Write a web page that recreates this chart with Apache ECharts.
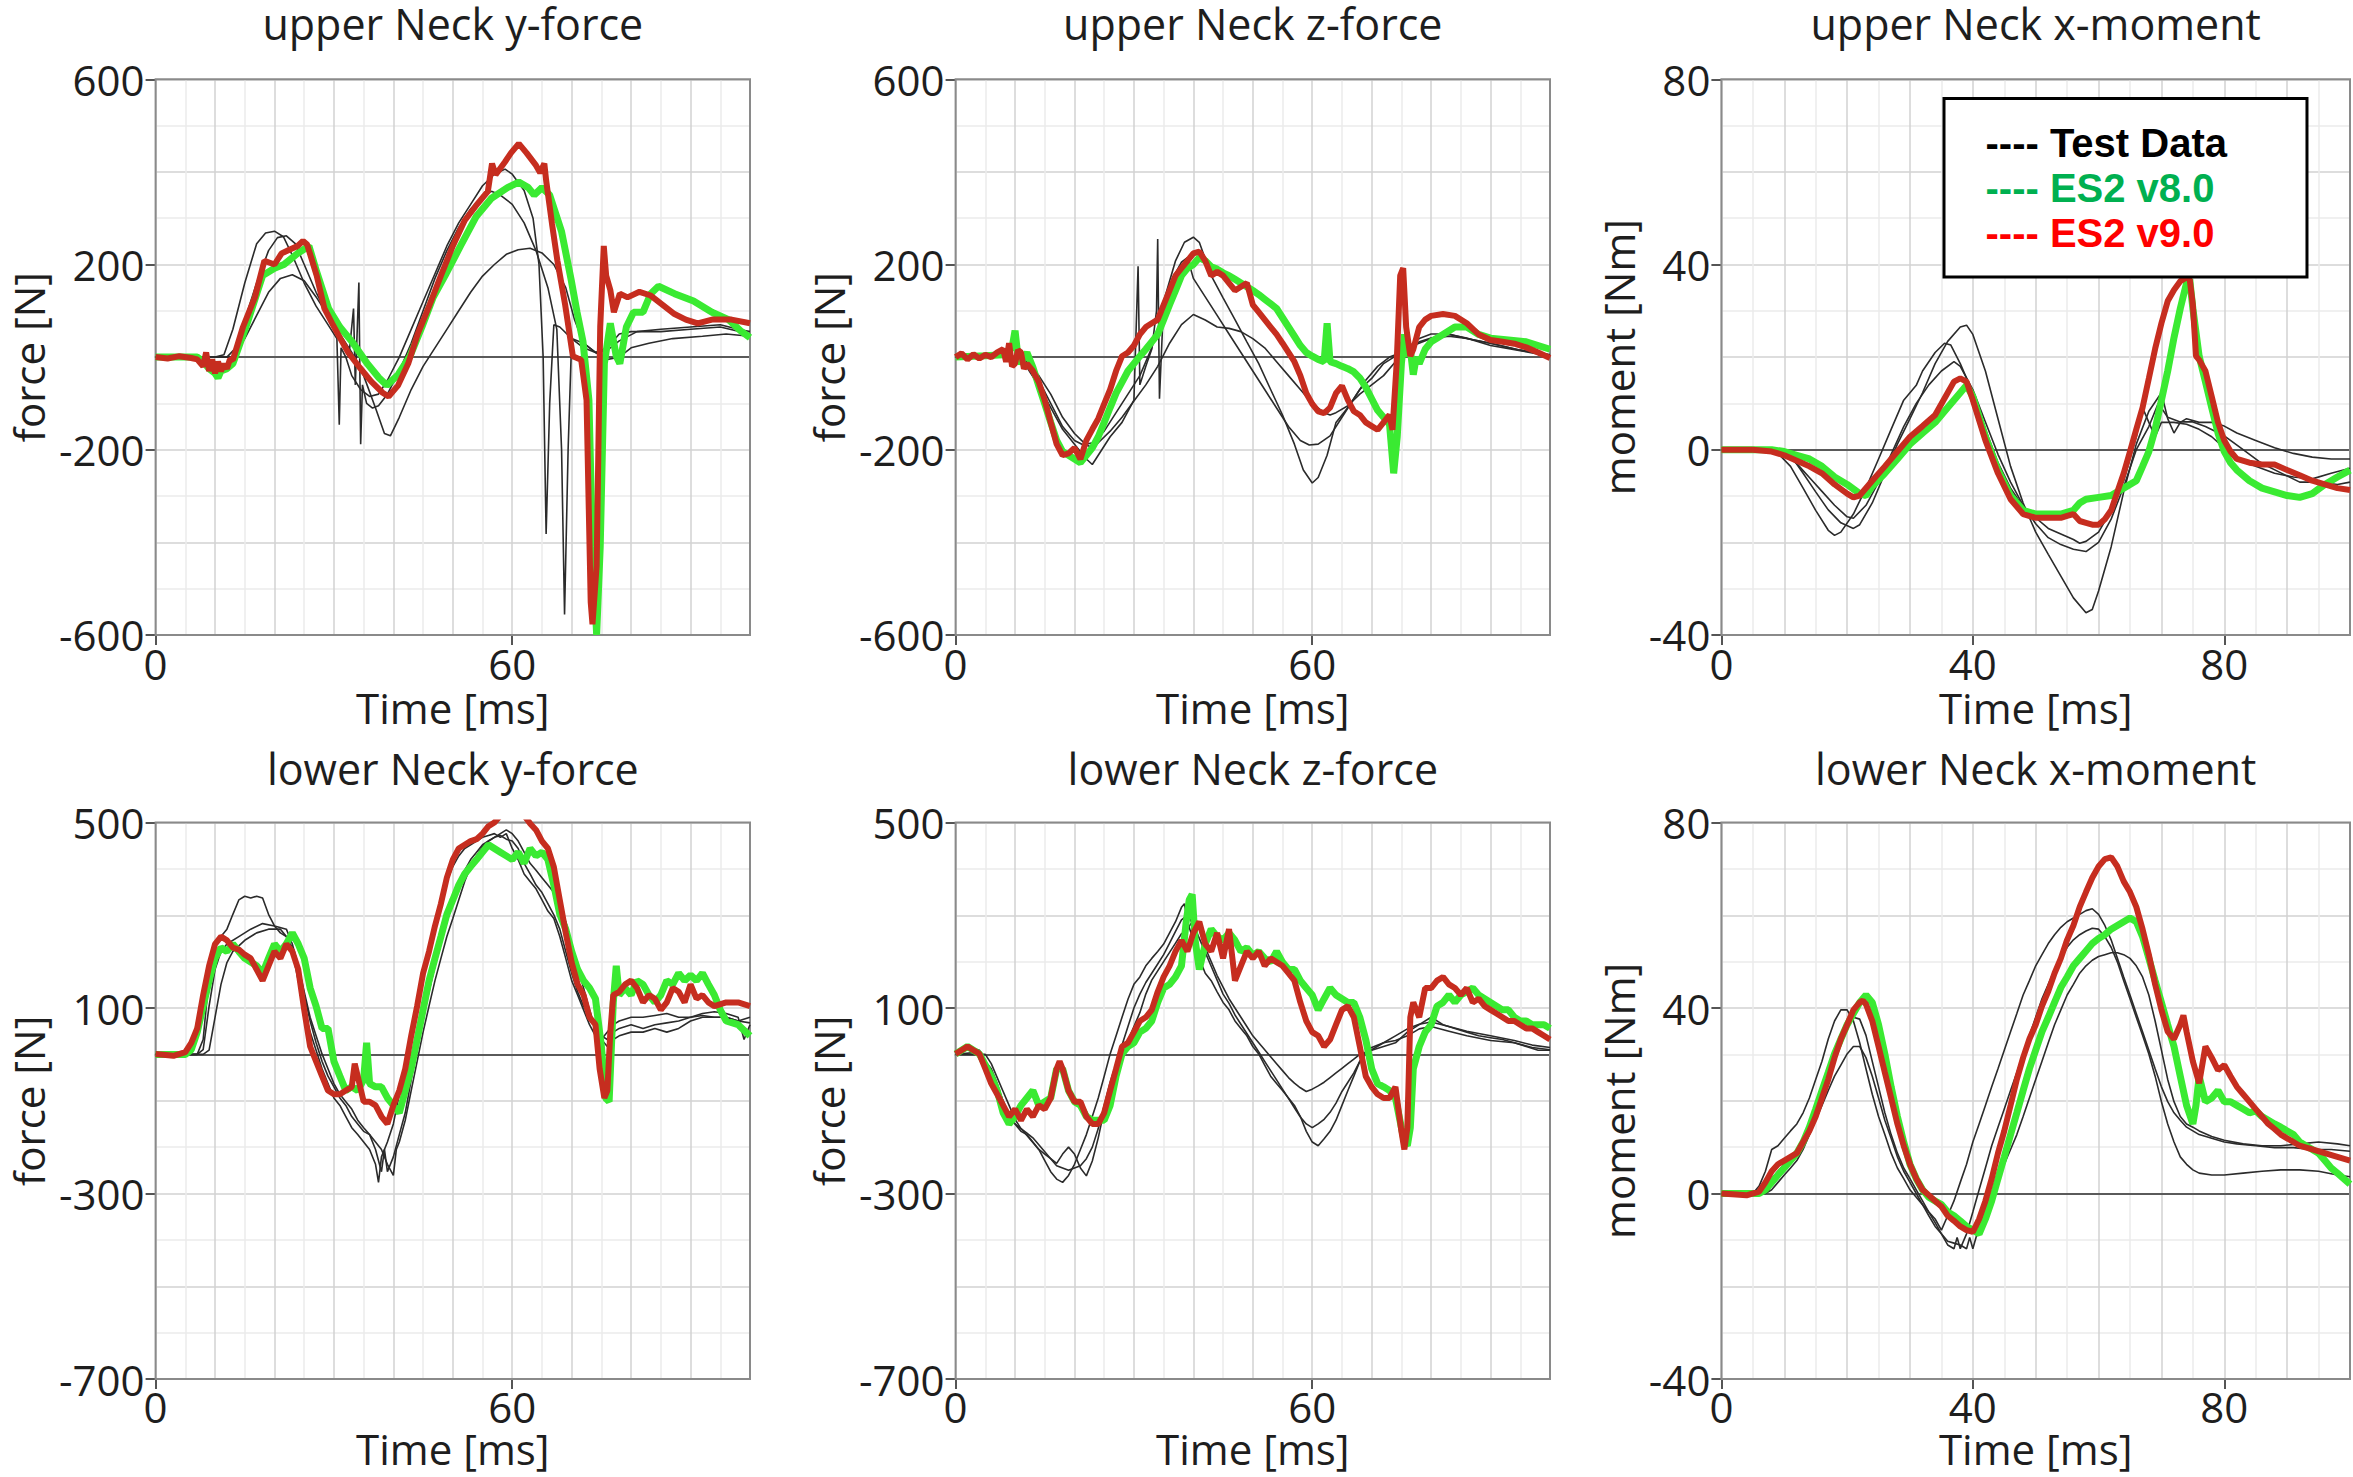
<!DOCTYPE html>
<html><head><meta charset="utf-8">
<script src="https://cdn.jsdelivr.net/npm/echarts@6/dist/echarts.min.js"></script>
<style>html,body{margin:0;padding:0;background:#fff}#c{width:2353px;height:1477px}</style>
</head><body><div id="c"></div>
<script>
// ---------------- DATA ----------------
const TITLES = ['upper Neck y-force','upper Neck z-force','upper Neck x-moment','lower Neck y-force','lower Neck z-force','lower Neck x-moment'];
const Y_NAMES = ['force [N]','force [N]','moment [Nm]','force [N]','force [N]','moment [Nm]'];
const X_NAME = 'Time [ms]';
const X_RANGE = [0, 100];
const X_TICKS_FORCE = [0, 60];
const X_TICKS_MOMENT = [0, 40, 80];
const Y_RANGE_UPPER_FORCE = [-600, 600];
const Y_RANGE_LOWER_FORCE = [-700, 500];
const Y_RANGE_MOMENT = [-40, 80];
const Y_TICKS_UPPER_FORCE = [-600, -200, 200, 600];
const Y_TICKS_LOWER_FORCE = [-700, -300, 100, 500];
const Y_TICKS_MOMENT = [-40, 0, 40, 80];
const SERIES_NAMES = ['Test Data', 'ES2 v8.0', 'ES2 v9.0'];

// upper Neck y-force
const UNY_T1 = [[0,0],[10,0],[11.5,5],[13,60],[15,160],[17,245],[18.5,268],[20,272],[21.5,260],[23,220],[25,160],[27,110],[29,70],[30.5,40],[30.9,-146],[31.2,20],[32,0],[33,-40],[34.5,-70],[36,-85],[37.5,-80],[39,-50],[41,0],[43,60],[45,120],[47,180],[49,240],[51,290],[53,330],[55,370],[57,395],[58.8,406],[60,395],[62,360],[63.5,300],[64.5,200],[65.2,0],[65.7,-382],[66.3,-100],[67,70],[68,65],[70,40],[72,20],[74,10],[76,15],[78,35],[81,55],[85,60],[90,65],[95,70],[98,60],[100,55]];
const UNY_T2 = [[0,0],[12,0],[13.5,20],[15,80],[17,160],[19,230],[20.5,258],[22,262],[23.5,245],[25,200],[27,140],[29,90],[31,40],[32.5,0],[33.3,105],[33.6,-60],[34.2,161],[34.5,-188],[34.8,-60],[35.5,-100],[36.5,-110],[37.5,-105],[39,-80],[41,-30],[43,30],[45,100],[47,170],[49,230],[51,280],[53,320],[55,348],[56.5,358],[58,350],[60,330],[62,290],[64,230],[66,150],[67.5,60],[68.3,-200],[68.8,-556],[69.4,-200],[70,40],[72,30],[74,10],[76,20],[78,50],[80,55],[85,55],[90,60],[95,65],[100,50]];
const UNY_T3 = [[0,0],[13,0],[15,40],[17,90],[19,140],[21,170],[23,178],[25,165],[27,130],[29,90],[31,50],[33,10],[35,-40],[37,-110],[38.5,-165],[39.5,-170],[41,-130],[43,-70],[45,-20],[47,20],[49,60],[51,100],[53,140],[55,175],[57,200],[59,222],[61,232],[63,235],[65,225],[67,200],[69,150],[70.5,80],[72,30],[74,10],[76,-5],[78,0],[80,20],[83,30],[87,40],[92,45],[96,50],[100,45]];
const UNY_V8 = [[0,0],[7,0],[8,-10],[9,-25],[10,-35],[10.5,-45],[11,-30],[12,-25],[13,-14],[15.4,73],[18,176],[20,192],[21.6,200],[23.9,224],[25.8,240],[27.1,184],[29.1,105],[31,65],[33,34],[35.6,-14],[37.6,-45],[38.9,-61],[40.8,-38],[42.8,2],[44.8,65],[46.7,129],[48.7,176],[51.3,240],[53.9,303],[56.5,343],[59.2,366],[61.1,378],[62.7,366],[63.7,350],[65,366],[66.3,350],[68.3,271],[69.9,168],[70.9,97],[71.9,34],[72.9,-93],[73.5,-410],[74.2,-600],[74.8,-410],[75.5,-14],[76.5,73],[77.5,2],[78.1,-14],[79.2,65],[80.4,97],[82,97],[83.3,137],[84.6,153],[87.3,137],[90.5,121],[93.6,97],[96.4,81],[98.4,57],[100,42]];
const UNY_V9 = [[0,0],[2,-3],[4,2],[6,-2],[7,-5],[8,-20],[8.5,10],[9,-30],[9.5,-5],[10,-35],[10.5,-10],[11,-30],[11.5,-15],[12,-25],[12.5,-5],[13,-6],[14.7,65],[16.7,129],[18.3,208],[20,200],[21.2,224],[22.5,232],[23.9,240],[24.8,251],[25.5,243],[27.1,176],[28.4,105],[29.7,73],[31,42],[32.4,10],[34.3,-22],[36.3,-53],[38.2,-77],[39.2,-85],[40.8,-61],[42.5,-14],[44.1,50],[46.1,113],[48,176],[50,240],[52,295],[53.9,327],[55.9,358],[56.6,418],[57.2,394],[58.8,422],[59.8,441],[61.1,461],[62.4,441],[64,414],[64.7,398],[65.4,418],[65.7,382],[66.7,287],[67.6,208],[68.9,113],[70.2,2],[71.6,-6],[72.5,-93],[73.2,-529],[73.5,-577],[74.2,-450],[74.8,65],[75.4,240],[75.8,176],[76.5,145],[77.1,97],[78.1,137],[79.4,129],[81.4,141],[83.3,133],[85.3,113],[87.3,93],[89.2,81],[91.2,73],[93.6,81],[96.9,81],[100,73]];

// upper Neck z-force
const UNZ_T1 = [[0,0],[9,0],[10,-8],[12,-22],[14,-62],[16,-109],[18,-156],[20,-188],[22,-220],[23,-232],[24,-212],[26,-172],[28,-141],[30,-93],[30.7,196],[31,-60],[32,-20],[33,17],[33.8,100],[34,255],[34.3,-90],[35,120],[37,208],[38.5,248],[40,259],[41,248],[43,176],[45,128],[47,81],[49,33],[51,-14],[53,-70],[55,-125],[57,-188],[58.5,-244],[60,-272],[61,-260],[62.5,-212],[64,-141],[66,-109],[68,-70],[70,-46],[72,-14],[74,2],[76,17],[78,33],[80,41],[83,49],[86,41],[90,25],[95,14],[100,2]];
const UNZ_T2 = [[0,0],[10,0],[12,-15],[14,-50],[16,-100],[18,-150],[20,-180],[21.5,-190],[23,-185],[25,-160],[27,-120],[29,-80],[31,-40],[33,20],[35,100],[36.5,170],[38,205],[39,215],[40,170],[42,130],[44,90],[46,50],[48,10],[50,-30],[52,-70],[54,-110],[56,-150],[58,-180],[59.5,-190],[61,-188],[63,-170],[65,-130],[67,-90],[69,-50],[71,-20],[73,0],[75,10],[77,25],[80,40],[83,45],[86,40],[90,30],[95,15],[100,5]];
const UNZ_T3 = [[0,0],[10,0],[12,-10],[14,-40],[16,-80],[18,-130],[20,-165],[22,-190],[23,-195],[24,-185],[26,-160],[28,-130],[30,-95],[32,-60],[34,-20],[36,30],[38,70],[40,92],[42,80],[44,65],[46,62],[48,55],[50,40],[52,20],[54,-10],[56,-40],[58,-70],[60,-100],[62,-120],[63,-125],[64,-120],[66,-105],[68,-80],[70,-60],[72,-40],[74,-10],[76,20],[78,40],[80,50],[83,50],[86,40],[90,30],[95,15],[100,5]];
const UNZ_V8 = [[0,0],[5,3],[8,5],[9.5,20],[10,57],[10.5,0],[11,-14],[12,10],[13,-22],[14,-62],[15,-101],[16,-141],[17,-180],[18,-204],[19,-212],[20,-220],[21,-228],[22,-212],[23,-196],[24,-172],[25,-141],[26,-109],[27,-78],[28,-54],[29,-30],[30,-14],[31,2],[32,17],[33,33],[34,49],[35,81],[36,113],[37,144],[38,176],[39,192],[40,200],[41,215],[42,208],[43,195],[44,190],[45,182],[46,176],[47,168],[48,160],[49,152],[50,144],[51,135],[52,125],[53,115],[54,105],[55,85],[56,65],[57,45],[58,25],[59,10],[60,2],[61,-5],[62,-10],[62.5,73],[63,-10],[64,-14],[65,-20],[66,-25],[67,-32],[68,-45],[69,-65],[70,-90],[71,-115],[72,-130],[73,-145],[73.7,-251],[74.3,-172],[75,-14],[75.5,49],[76,2],[76.5,17],[77,-38],[77.5,0],[78,-14],[79,17],[80,33],[82,49],[84,65],[86,65],[88,49],[90,41],[93,37],[96,33],[100,17]];
const UNZ_V9 = [[0,0],[1,8],[2,-5],[3,6],[4,-3],[5,5],[6,0],[7,10],[8,17],[8.5,-10],[9,30],[9.5,-20],[10,-14],[10.5,15],[11,10],[11.5,-25],[12,-14],[13,-30],[14,-54],[15,-93],[16,-141],[17,-188],[18,-212],[19,-208],[20,-196],[21,-220],[22,-180],[23,-156],[24,-133],[25,-101],[26,-70],[27,-30],[28,2],[29,10],[30,25],[31,49],[32,65],[33,73],[34,81],[35,113],[36,144],[37,176],[38,192],[39,208],[40,224],[41,228],[42,208],[43,176],[44,184],[45,176],[46,160],[47,144],[48,152],[49,160],[50,113],[51,97],[52,81],[53,65],[54,49],[55,30],[56,10],[57,-10],[58,-40],[59,-78],[60,-101],[61,-117],[62,-121],[63,-109],[64,-78],[65,-62],[66,-93],[67,-117],[68,-125],[69,-141],[70,-149],[71,-157],[72,-141],[73,-125],[73.5,-157],[74.2,-14],[74.8,176],[75.3,192],[75.8,65],[76.5,2],[77,17],[78,65],[79,81],[80,89],[82,93],[84,89],[86,73],[88,49],[90,37],[92,33],[94,29],[96,21],[98,10],[100,-2]];

// upper Neck x-moment
const UMX_T1 = [[0,0],[9,0],[11,-1.2],[13,-5.1],[15,-9.1],[17,-13],[19,-15.8],[21,-17],[22,-16.2],[24,-11.5],[26,-5.1],[28,1.2],[30,6.7],[32,12.3],[34,18.6],[36,23.4],[38,26.5],[39,26.9],[40,24.9],[42,17],[44,6.7],[46,-3.6],[48,-11.5],[50,-17.8],[52,-22.6],[54,-27.3],[56,-32],[58,-35.2],[59,-34.5],[60,-30.5],[62,-21],[64,-9.1],[66,1.2],[68,8.3],[70,12.3],[71,6.7],[72,3.6],[73,5.9],[74,6.7],[76,5.9],[78,5.9],[80,5.1],[82,3.6],[85,2],[88,0.4],[91,-0.8],[94,-1.6],[97,-2],[100,-2]];
const UMX_T2 = [[0,0],[7,0],[9,-0.8],[11,-3.6],[13,-8.3],[15,-13.1],[17,-17.4],[18,-18.5],[19,-17.8],[21,-13.9],[23,-8.3],[25,-2],[27,4.4],[29,10.7],[31,13.9],[32,17],[34,21],[35.5,23],[36.5,22.6],[38,18.6],[40,12.3],[42,4.4],[44,-2.8],[46,-8.3],[48,-12.3],[50,-14.7],[52,-17],[54,-18.2],[56,-19.4],[57,-20.2],[58,-19.8],[60,-17.8],[62,-13.1],[64,-6.7],[66,2.8],[67,9.1],[68,5.9],[69,2.8],[70,5.9],[72,5.9],[74,5.5],[76,4.4],[78,2.8],[80,0.4],[82,-2],[85,-3.6],[88,-5.1],[91,-5.9],[94,-6.3],[97,-5.1],[100,-4]];
const UMX_T3 = [[0,0],[8,0],[10,-1],[12,-3],[14,-6],[16,-9],[18,-12],[20,-14.5],[21,-14.8],[23,-12],[25,-7],[27,-1],[29,5],[31,10],[33,14],[35,17],[37,19],[38,18],[40,13],[42,6],[44,-1],[46,-7],[48,-12],[50,-16],[52,-19],[54,-20.5],[56,-21.5],[58,-22],[60,-20],[62,-15],[64,-8],[66,0],[68,5],[69.5,10],[71,7],[73,6],[75,6],[77,5],[80,3],[83,0],[86,-3],[89,-5],[92,-7],[95,-7],[98,-7.5],[100,-7]];
const UMX_V8 = [[0,0],[8,0],[10,-0.4],[12,-1.2],[14,-2],[16,-3.6],[18,-5.9],[20,-7.5],[22,-9.5],[23,-9.9],[24,-7.9],[26,-5.1],[28,-2],[30,1.2],[32,3.6],[34,5.9],[36,9.1],[38,12.3],[39,13.9],[40,11.5],[42,2.8],[44,-4.4],[46,-9.9],[48,-13.1],[50,-13.9],[52,-13.9],[54,-13.9],[56,-13.1],[57,-11.5],[58,-10.7],[60,-10.3],[62,-9.9],[64,-8.3],[66,-6.7],[67,-3.6],[68,-0.4],[69,4.4],[70,10.7],[71,17],[72,24.2],[73,30.5],[74,36],[74.5,36.8],[75,30.5],[76,20.2],[77,14.7],[78,9.1],[79,3.6],[80,-0.4],[81,-2.8],[82,-4.4],[84,-6.7],[86,-8.3],[88,-9.1],[90,-9.9],[92,-10.3],[94,-9.5],[96,-7.5],[98,-5.9],[100,-4.4]];
const UMX_V9 = [[0,0],[5,0],[8,-0.4],[10,-1.2],[12,-2.4],[14,-3.6],[16,-5.1],[18,-7.5],[20,-9.5],[21,-10.3],[22,-9.9],[24,-6.7],[26,-3.6],[28,-0.4],[30,2.8],[32,5.1],[34,7.5],[36,12.3],[37,14.7],[38,15.4],[39,14.7],[40,10.7],[42,2],[44,-5.1],[46,-10.7],[48,-13.9],[50,-14.7],[52,-14.7],[54,-14.7],[55,-14.3],[56,-13.9],[57,-15.4],[58,-15.8],[59,-16.2],[60,-16.2],[61,-15],[62,-13.1],[63,-9.1],[64,-5.1],[65,-0.4],[66,4.4],[67,9.1],[68,15.4],[69,21.8],[70,27.3],[71,32.1],[72,34.5],[73,36.4],[74,37.2],[74.5,36.8],[75,31.3],[75.5,20.2],[76,19.4],[77,17],[78,11.5],[79,5.9],[80,2],[81,-0.4],[82,-2],[84,-2.8],[86,-3.2],[88,-3.2],[90,-4.4],[92,-5.5],[94,-6.7],[96,-7.5],[98,-8.3],[100,-8.7]];

// lower Neck y-force
const LNY_T1 = [[0,0],[7,0],[8,32],[9,167],[10,238],[11,254],[12,270],[13,302],[14,333],[15,341],[16,337],[17,341],[18,337],[19,302],[20,277],[21,262],[22,254],[23,222],[24,159],[25,96],[26,48],[27,9],[28,-31],[29,-63],[30,-94],[31,-110],[32,-134],[33,-158],[34,-173],[35,-189],[36,-205],[37,-237],[37.5,-276],[38,-221],[39,-189],[40,-150],[41,-86],[42,-15],[43,48],[44,112],[45,175],[46,230],[47,286],[48,333],[49,373],[50,405],[51,428],[52,444],[53,452],[54,460],[55,468],[56,472],[57,476],[58,468],[59,476],[60,444],[61,420],[62,389],[63,373],[64,357],[65,333],[66,309],[67,293],[68,254],[69,207],[70,159],[71,128],[72,96],[73,64],[74,40],[75,32],[76,48],[77,64],[78,72],[80,80],[82,80],[84,84],[86,88],[88,80],[90,80],[92,88],[94,92],[96,88],[98,80],[99,32],[100,64]];
const LNY_T2 = [[0,0],[7,0],[8,10],[9,104],[10,183],[11,222],[12,238],[14,254],[16,270],[18,282],[20,277],[22,270],[23,238],[24,191],[25,128],[26,72],[27,25],[28,-15],[29,-47],[30,-70],[31,-94],[32,-110],[33,-134],[34,-150],[35,-166],[36,-173],[37,-205],[38,-253],[38.5,-205],[39,-253],[40,-221],[41,-173],[42,-126],[43,-55],[44,17],[45,80],[46,135],[47,191],[48,238],[49,286],[50,325],[51,365],[52,397],[53,420],[54,436],[55,452],[56,460],[57,468],[58,472],[59,464],[60,460],[61,444],[62,412],[63,389],[64,365],[65,349],[66,325],[67,301],[68,270],[69,222],[70,175],[71,135],[72,104],[73,80],[74,56],[75,40],[76,32],[77,48],[78,56],[80,64],[82,56],[84,64],[86,68],[88,72],[90,80],[92,84],[94,80],[96,80],[98,72],[100,80]];
const LNY_T3 = [[0,0],[8,0],[9,9],[10,80],[11,151],[12,198],[13,222],[15,246],[17,262],[19,270],[21,270],[22,254],[23,230],[24,191],[25,135],[26,80],[27,40],[28,1],[29,-31],[30,-63],[31,-86],[32,-102],[33,-118],[34,-142],[35,-158],[36,-173],[37,-189],[38,-205],[39,-237],[40,-261],[40.5,-205],[41,-189],[42,-142],[43,-78],[44,-15],[45,48],[46,104],[47,159],[48,207],[49,254],[50,293],[51,333],[52,373],[53,405],[54,428],[55,448],[56,460],[57,468],[58,476],[59,484],[60,476],[61,460],[62,436],[63,412],[64,397],[65,381],[66,365],[67,349],[68,317],[69,286],[70,238],[71,191],[72,143],[73,96],[74,56],[75,32],[76,17],[77,32],[78,40],[80,48],[82,48],[84,56],[86,48],[88,56],[90,72],[92,80],[94,80],[96,80],[98,72],[100,68]];
const LNY_V8 = [[0,0],[5,0],[6,10],[7,48],[8,104],[9,159],[10,207],[11,230],[12,222],[13,238],[14,222],[15,207],[16,199],[17,191],[18,175],[19,207],[20,238],[21,222],[22,238],[23,262],[24,238],[25,207],[26,143],[27,104],[28,56],[29,56],[30,-15],[31,-47],[32,-78],[33,-70],[34,-78],[35,-55],[35.5,25],[36,-63],[37,-70],[38,-70],[39,-94],[40,-110],[41,-126],[42,-78],[43,-31],[44,32],[45,96],[46,159],[47,207],[48,254],[49,302],[50,333],[51,365],[52,389],[53,405],[54,420],[55,436],[56,452],[57,444],[58,436],[59,428],[60,420],[61,436],[62,412],[63,444],[64,428],[65,436],[66,420],[67,365],[68,302],[69,270],[70,222],[71,183],[72,159],[73,143],[74,120],[75,17],[75.7,-94],[76.3,-102],[77,112],[77.5,191],[78,128],[79,143],[80,128],[81,159],[82,151],[83,128],[84,112],[85,128],[86,159],[87,151],[88,175],[89,159],[90,171],[91,159],[92,175],[93,151],[94,128],[95,96],[96,72],[98,64],[100,40]];
const LNY_V9 = [[0,1],[3,-3],[5,5],[6,25],[7,56],[8,128],[9,191],[10,238],[11,254],[12,246],[13,230],[14,226],[15,215],[16,207],[17,183],[18,159],[19,191],[20,222],[21,207],[22,238],[23,222],[24,183],[25,96],[26,17],[27,-15],[28,-47],[29,-78],[30,-86],[31,-86],[32,-78],[33,-70],[33.5,-20],[34,-47],[35,-102],[36,-102],[37,-110],[38,-134],[39,-150],[40,-110],[41,-78],[42,-31],[43,40],[44,104],[45,175],[46,222],[47,277],[48,325],[49,381],[50,420],[51,444],[52,452],[53,460],[54,464],[55,476],[56,492],[57,500],[58,515],[59,530],[60,540],[61,535],[62,515],[63,498],[64,484],[65,460],[66,444],[67,404],[68,333],[69,262],[70,198],[71,151],[72,128],[73,80],[74,64],[74.7,-31],[75.5,-94],[76,-78],[76.5,48],[77,128],[78,135],[79,151],[80,159],[81,143],[82,112],[83,128],[84,120],[85,96],[86,112],[87,143],[88,135],[89,112],[90,151],[91,120],[92,128],[93,112],[94,104],[96,112],[98,112],[100,104]];

// lower Neck z-force
const LNZ_T1 = [[0,1],[2,17],[4,9],[5,-15],[6,-31],[7,-63],[8,-102],[9,-134],[10,-150],[11,-166],[12,-173],[13,-189],[14,-205],[15,-229],[16,-253],[17,-269],[18,-276],[19,-261],[20,-237],[21,-205],[22,-173],[23,-134],[24,-94],[25,-47],[26,1],[27,40],[28,80],[29,119],[30,151],[31,167],[32,191],[33,207],[34,222],[35,238],[36,262],[37,286],[38,317],[38.5,325],[39,286],[40,246],[41,207],[42,175],[43,159],[44,135],[45,112],[46,96],[47,72],[48,56],[49,40],[50,17],[51,1],[52,-23],[53,-47],[54,-63],[55,-78],[56,-94],[57,-110],[58,-134],[59,-166],[60,-189],[61,-197],[62,-182],[63,-166],[64,-142],[65,-110],[66,-78],[67,-47],[68,-15],[69,1],[70,9],[72,17],[74,25],[76,48],[78,64],[80,80],[82,64],[84,56],[86,48],[88,40],[90,36],[92,32],[94,25],[96,17],[98,9],[100,9]];
const LNZ_T2 = [[0,0],[4,5],[5,-20],[6,-40],[7,-70],[8,-100],[9,-130],[10,-150],[11,-160],[12,-170],[13,-180],[14,-195],[15,-210],[16,-225],[17,-240],[18,-245],[19,-250],[20,-245],[21,-240],[22,-225],[23,-200],[24,-160],[25,-110],[26,-60],[27,-20],[28,20],[29,60],[30,100],[31,130],[32,155],[33,175],[34,195],[35,215],[36,240],[37,265],[38,290],[39,300],[40,280],[41,250],[42,220],[43,190],[44,160],[45,130],[46,110],[47,85],[48,65],[49,45],[50,25],[51,5],[52,-15],[53,-35],[54,-55],[55,-75],[56,-95],[57,-115],[58,-135],[59,-150],[60,-158],[61,-150],[62,-140],[63,-125],[64,-105],[65,-80],[66,-60],[67,-40],[68,-15],[69,5],[70,15],[72,25],[74,30],[76,40],[78,55],[80,60],[83,50],[86,40],[90,30],[94,25],[97,15],[100,10]];
const LNZ_T3 = [[0,0],[5,0],[6,-20],[7,-50],[8,-80],[9,-110],[10,-140],[11,-160],[12,-175],[13,-190],[14,-205],[15,-215],[16,-225],[17,-235],[18,-215],[19,-200],[20,-215],[21,-245],[22,-262],[23,-230],[24,-180],[25,-120],[26,-70],[27,-30],[28,0],[29,30],[30,60],[31,90],[32,130],[33,160],[34,180],[35,200],[36,220],[37,240],[38,260],[39,270],[40,290],[41,270],[42,230],[43,200],[44,170],[45,145],[46,120],[47,100],[48,80],[49,60],[50,40],[51,25],[52,10],[53,-5],[54,-20],[55,-35],[56,-50],[57,-62],[58,-72],[59,-80],[60,-75],[61,-68],[62,-60],[63,-50],[64,-40],[65,-30],[66,-20],[67,-10],[68,0],[70,10],[72,25],[74,40],[76,55],[78,65],[80,70],[83,60],[86,50],[90,40],[94,30],[97,20],[100,15]];
const LNZ_V8 = [[0,1],[1,9],[2,17],[3,9],[4,1],[5,-23],[6,-47],[7,-78],[8,-126],[9,-150],[10,-134],[11,-110],[12,-94],[13,-78],[14,-110],[15,-102],[16,-94],[17,-31],[18,-31],[19,-78],[20,-102],[21,-110],[22,-134],[23,-142],[24,-142],[25,-142],[26,-110],[27,-47],[28,1],[29,17],[30,25],[31,48],[32,56],[33,72],[34,112],[35,143],[36,151],[37,167],[38,191],[38.8,286],[39.3,333],[39.8,345],[40.3,246],[41,183],[42,238],[43,270],[44,254],[45,246],[46,262],[47,246],[48,222],[49,230],[50,214],[51,222],[52,207],[53,199],[54,222],[55,199],[56,183],[57,183],[58,159],[59,143],[60,128],[61,96],[62,120],[63,143],[64,128],[65,120],[66,112],[67,112],[68,80],[69,32],[70,-31],[71,-63],[72,-70],[73,-78],[74,-94],[75,-158],[75.5,-189],[76,-197],[76.5,-158],[77,-31],[78,17],[79,48],[80,64],[81,104],[82,112],[83,128],[84,112],[85,128],[86,135],[87,143],[88,128],[89,120],[90,112],[91,104],[92,96],[93,96],[94,80],[95,72],[96,72],[97,64],[98,64],[99,64],[100,56]];
const LNZ_V9 = [[0,1],[1,9],[2,17],[3,9],[4,1],[5,-31],[6,-63],[7,-86],[8,-110],[9,-134],[10,-118],[11,-142],[12,-118],[13,-134],[14,-110],[15,-118],[16,-94],[17,-31],[17.5,-15],[18,-31],[19,-78],[20,-102],[21,-102],[22,-134],[23,-150],[24,-150],[25,-126],[26,-78],[27,-31],[28,17],[29,25],[30,48],[31,72],[32,80],[33,96],[34,135],[35,167],[36,191],[37,222],[38,246],[39,222],[40,262],[41,286],[42,238],[43,222],[44,262],[45,207],[46,270],[47,159],[48,191],[49,222],[50,207],[51,222],[52,191],[53,207],[54,199],[55,191],[56,175],[57,159],[58,112],[59,72],[60,48],[61,40],[62,17],[63,32],[64,64],[65,96],[66,104],[67,80],[68,17],[69,-47],[70,-70],[71,-86],[72,-94],[73,-94],[74,-70],[75,-166],[75.5,-205],[76,-158],[76.5,80],[77,112],[78,80],[79,143],[80,143],[81,159],[82,167],[83,151],[84,143],[85,128],[86,143],[87,112],[88,120],[89,104],[90,96],[91,88],[92,80],[93,72],[94,72],[95,64],[96,56],[97,56],[98,48],[99,40],[100,32]];

// lower Neck x-moment
const LMX_T1 = [[0,0],[5,0],[6,1.6],[7,4.8],[8,9.5],[9,10.3],[10,11.9],[11,13.5],[12,15],[13,17.4],[14,20.6],[15,24.6],[16,28.5],[17,33.3],[18,37.2],[19,39.6],[20,39.6],[21,37.2],[22,32.5],[23,26.9],[24,21.4],[25,16.6],[26,12.7],[27,8.7],[28,5.5],[29,3.2],[30,0.8],[31,-0.8],[32,-2.4],[33,-4],[34,-5.5],[35,-7.9],[36,-4.8],[37,-1.6],[38,2.4],[39,6.3],[40,11.1],[41,15],[42,19],[43,23],[44,26.9],[45,30.9],[46,34.9],[47,38.8],[48,42.8],[49,45.9],[50,49.1],[51,51.5],[52,53.9],[53,55.8],[54,57.4],[55,58.6],[56,59.4],[57,60.2],[58,61],[59,61.4],[60,60.2],[61,57.8],[62,54.7],[63,50.7],[64,46.7],[65,42.8],[66,38.8],[67,34.9],[68,30.9],[69,26.9],[70,23],[71,19.8],[72,17.4],[73,15.8],[74,14.3],[75,13.5],[76,12.7],[78,11.9],[80,11.1],[82,10.7],[85,10.3],[88,9.9],[91,9.9],[94,9.5],[97,9.5],[100,9.1]];
const LMX_T2 = [[0,0],[6,0],[7,1],[8,3.2],[9,4.8],[10,6.3],[11,7.9],[12,9.5],[13,11.9],[14,15],[15,19],[16,23],[17,26.9],[18,30.9],[19,34.1],[20,36.4],[21,38],[22,37.6],[23,34.1],[24,28.5],[25,23],[26,17.4],[27,12.7],[28,8.7],[29,5.5],[30,3.2],[31,0.8],[32,-1.6],[33,-4],[34,-6.3],[35,-8.7],[36,-11.1],[37,-11.9],[37.5,-9.5],[38,-11.9],[39,-8.7],[40,-4],[41,0.8],[42,5.5],[43,10.3],[44,14.3],[45,18.2],[46,22.2],[47,26.1],[48,30.1],[49,34.1],[50,38],[51,42],[52,45.1],[53,48.3],[54,50.7],[55,53.1],[56,54.7],[57,55.8],[58,56.6],[59,57.2],[60,57],[61,55.4],[62,53.1],[63,49.9],[64,45.9],[65,42],[66,38],[67,34.1],[68,30.1],[69,25.3],[70,19.8],[71,15],[72,11.1],[73,7.9],[74,6.3],[75,5.1],[76,4.4],[78,4],[80,4],[83,4.4],[86,4.8],[89,5.1],[92,5.1],[95,4.8],[98,4],[100,3.6]];
const LMX_T3 = [[0,0],[7,0],[8,0.8],[9,2.4],[10,4],[11,5.5],[12,7.1],[13,9.5],[14,12.7],[15,15.8],[16,19],[17,22.2],[18,25.3],[19,27.7],[20,30.1],[21,31.7],[22,31.7],[23,29.3],[24,25.3],[25,20.6],[26,15.8],[27,11.9],[28,7.9],[29,4.8],[30,2.4],[31,0],[32,-2.4],[33,-4.8],[34,-7.1],[35,-8.7],[36,-10.3],[37,-10.7],[38,-11.1],[39,-11.9],[39.5,-9.5],[40,-11.9],[41,-7.1],[42,-3.2],[43,0],[44,3.2],[45,6.3],[46,9.5],[47,12.7],[48,16.6],[49,20.6],[50,24.6],[51,28.5],[52,32.5],[53,36.4],[54,39.6],[55,42.8],[56,45.1],[57,47.5],[58,49.1],[59,50.3],[60,51.1],[61,51.5],[62,51.9],[63,51.9],[64,51.5],[65,50.7],[66,49.1],[67,46.7],[68,42.8],[69,37.2],[70,30.9],[71,24.6],[72,19.8],[73,16.6],[74,15],[75,14.3],[76,13.5],[78,12.3],[80,11.5],[83,10.7],[86,10.3],[89,10.3],[92,10.7],[95,11.1],[98,10.7],[100,10.3]];
const LMX_V8 = [[0,0],[6,0],[7,0.8],[8,2.4],[9,4],[10,5.5],[11,7.1],[12,8.7],[13,11.1],[14,14.3],[15,18.2],[16,22.2],[17,26.1],[18,30.1],[19,33.3],[20,36.4],[21,38.8],[22,41.2],[23,42.8],[24,41.2],[25,36.4],[26,30.1],[27,23],[28,16.6],[29,11.1],[30,6.3],[31,3.2],[32,0.8],[33,-0.8],[34,-1.6],[35,-2.4],[36,-4],[37,-4.8],[38,-5.9],[39,-7.1],[40,-7.9],[41,-8.7],[42,-5.5],[43,-1.6],[44,3.2],[45,7.9],[46,12.7],[47,17.4],[48,22.2],[49,26.9],[50,30.9],[51,34.9],[52,38],[53,41.2],[54,44.4],[55,46.7],[56,49.1],[57,50.7],[58,52.3],[59,53.9],[60,55],[61,55.8],[62,57],[63,57.8],[64,58.6],[65,59.4],[66,58.6],[67,55.4],[68,50.7],[69,45.9],[70,41.2],[71,36.4],[72,31.7],[73,25.3],[74,19],[75,15],[75.5,19],[76,25.3],[77,19.8],[78,20.6],[79,22.2],[80,19.8],[81,19.8],[82,19],[83,18.2],[84,17.4],[85,17.8],[86,16.6],[87,15.8],[88,15],[89,14.3],[90,13.5],[91,12.7],[92,11.1],[93,10.3],[94,9.5],[95,8.7],[96,7.1],[97,5.5],[98,4.4],[99,3.2],[100,2]];
const LMX_V9 = [[0,0],[4,-0.4],[6,0.4],[7,2.4],[8,4.8],[9,6.3],[10,7.1],[11,7.9],[12,8.7],[13,11.1],[14,13.5],[15,16.6],[16,20.6],[17,24.6],[18,29.3],[19,33.3],[20,36.4],[21,39.6],[22,41.2],[22.5,41.6],[23,40.8],[24,37.2],[25,31.7],[26,26.1],[27,20.6],[28,15],[29,10.3],[30,6.3],[31,3.2],[32,0.8],[33,-0.4],[34,-1.6],[35,-2.8],[36,-4.8],[37,-5.9],[38,-7.1],[39,-7.9],[40,-8.3],[41,-5.5],[42,-1.6],[43,3.2],[44,8.7],[45,13.5],[46,19],[47,24.6],[48,29.3],[49,33.3],[50,36.4],[51,40.4],[52,43.6],[53,47.5],[54,50.7],[55,54.7],[56,57.8],[57,61.8],[58,65],[59,68.1],[60,70.5],[61,72.1],[62,72.5],[63,70.5],[64,67.3],[65,65],[66,61.8],[67,57],[68,51.5],[69,45.1],[70,39.6],[71,34.9],[72,33.3],[73,36.4],[73.5,38.4],[74,34.9],[75,28.5],[76,23.8],[77,31.7],[78,29.3],[79,26.6],[80,27.7],[81,25.3],[82,23],[83,21.4],[84,19.8],[85,18.2],[86,16.6],[87,15],[88,13.9],[89,12.7],[90,11.9],[92,10.3],[94,9.5],[96,8.7],[98,7.9],[100,7.1]];

const PANEL_DATA = [
  [UNY_T1, UNY_T2, UNY_T3, UNY_V8, UNY_V9],
  [UNZ_T1, UNZ_T2, UNZ_T3, UNZ_V8, UNZ_V9],
  [UMX_T1, UMX_T2, UMX_T3, UMX_V8, UMX_V9],
  [LNY_T1, LNY_T2, LNY_T3, LNY_V8, LNY_V9],
  [LNZ_T1, LNZ_T2, LNZ_T3, LNZ_V8, LNZ_V9],
  [LMX_T1, LMX_T2, LMX_T3, LMX_V8, LMX_V9]
];
const Y_RANGES = [Y_RANGE_UPPER_FORCE, Y_RANGE_UPPER_FORCE, Y_RANGE_MOMENT, Y_RANGE_LOWER_FORCE, Y_RANGE_LOWER_FORCE, Y_RANGE_MOMENT];
const Y_TICKS = [Y_TICKS_UPPER_FORCE, Y_TICKS_UPPER_FORCE, Y_TICKS_MOMENT, Y_TICKS_LOWER_FORCE, Y_TICKS_LOWER_FORCE, Y_TICKS_MOMENT];
const X_TICKS = [X_TICKS_FORCE, X_TICKS_FORCE, X_TICKS_MOMENT, X_TICKS_FORCE, X_TICKS_FORCE, X_TICKS_MOMENT];

// ---------------- LAYOUT / STYLE ----------------
const FONT = "'Open Sans', 'Noto Sans', sans-serif";
const TXT = '#1e1e1e';
const COLS = [{left:155.6, width:594.4, gap:112.6}, {left:955.6, width:594.4, gap:112.6}, {left:1721.4, width:628.6, gap:88}];
const ROWS = [
  {top:79.3, height:555.6, titleTop:1.8, nameGap:58, labelMargin:14},
  {top:822.5, height:556.5, titleTop:746.8, nameGap:54, labelMargin:12}
];
const MAJOR = '#d2d2d2', MINOR = '#ebebeb';
const LINE_STYLES = [
  {color:'#2b2b2b', width:1.6},
  {color:'#2b2b2b', width:1.6},
  {color:'#2b2b2b', width:1.6},
  {color:'#3aea32', width:7},
  {color:'#c62d1f', width:6}
];

const grids = [], xAxes = [], yAxes = [], series = [], titles = [];
for (let p = 0; p < 6; p++) {
  const c = COLS[p % 3], r = ROWS[Math.floor(p / 3)];
  grids.push({left:c.left, top:r.top, width:c.width, height:r.height, show:true,
    borderColor:'#8a8a8a', borderWidth:2, backgroundColor:'transparent', z:1});
  titles.push({text:TITLES[p], left:c.left + c.width / 2, top:r.titleTop, textAlign:'center', padding:0,
    textStyle:{fontFamily:FONT, fontSize:43, fontWeight:'normal', color:TXT, lineHeight:43}});
  const yr = Y_RANGES[p];
  const yInt = (yr[1] - yr[0]) > 200 ? 100 : 10;
  // primary axes: grid lines and zero line
  xAxes.push({type:'value', gridIndex:p, min:X_RANGE[0], max:X_RANGE[1], interval:5,
    axisLine:{show:true, onZero:true, lineStyle:{color:'#5a5a5a', width:2}},
    axisTick:{show:false}, axisLabel:{show:false},
    splitLine:{show:true, lineStyle:{color:[MAJOR, MINOR], width:1.5}}});
  yAxes.push({type:'value', gridIndex:p, min:yr[0], max:yr[1], interval:yInt,
    axisLine:{show:false}, axisTick:{show:false}, axisLabel:{show:false},
    splitLine:{show:true, lineStyle:{color:[MAJOR, MINOR], width:1.5}}});
  // secondary axes: labels, ticks and names
  xAxes.push({type:'value', gridIndex:p, position:'bottom', min:X_RANGE[0], max:X_RANGE[1],
    axisLine:{show:false, onZero:false},
    axisTick:{show:true, customValues:X_TICKS[p], length:10, lineStyle:{color:'#555', width:2}},
    axisLabel:{show:true, customValues:X_TICKS[p], margin:r.labelMargin, fontFamily:FONT, fontSize:42, color:TXT, lineHeight:30},
    splitLine:{show:false},
    name:X_NAME, nameLocation:'middle', nameGap:r.nameGap,
    nameTextStyle:{fontFamily:FONT, fontSize:42, color:TXT, lineHeight:30}});
  yAxes.push({type:'value', gridIndex:p, position:'left', min:yr[0], max:yr[1],
    axisLine:{show:false, onZero:false},
    axisTick:{show:true, customValues:Y_TICKS[p], length:10, lineStyle:{color:'#555', width:2}},
    axisLabel:{show:true, customValues:Y_TICKS[p], margin:11, fontFamily:FONT, fontSize:42, color:TXT, lineHeight:30},
    splitLine:{show:false},
    name:Y_NAMES[p], nameLocation:'middle', nameGap:c.gap, nameRotate:90,
    nameTextStyle:{fontFamily:FONT, fontSize:42, color:TXT, lineHeight:30}});
  PANEL_DATA[p].forEach((d, k) => {
    const nm = k < 3 ? SERIES_NAMES[0] : SERIES_NAMES[k - 2];
    series.push({type:'line', name:nm, xAxisIndex:2 * p, yAxisIndex:2 * p, data:d,
      showSymbol:false, symbol:'none', clip:true, silent:true, z: k < 3 ? 2 : k,
      lineStyle:LINE_STYLES[k], itemStyle:{color:LINE_STYLES[k].color},
      emphasis:{disabled:true}});
  });
}

const option = {
  backgroundColor:'#ffffff',
  animation:false,
  title:titles,
  grid:grids,
  xAxis:xAxes,
  yAxis:yAxes,
  legend:{
    show:true, orient:'vertical', left:1944, top:98.6,
    padding:[21.4, 80, 22, 36.5],
    icon:'none', itemWidth:0, itemHeight:10, itemGap:0,
    formatter:'---- {name}', selectedMode:false,
    backgroundColor:'#ffffff', borderColor:'#000000', borderWidth:3, z:20,
    textStyle:{fontFamily:"'Liberation Sans', Arial, sans-serif", fontWeight:'bold', fontSize:40, lineHeight:45},
    data:[
      {name:SERIES_NAMES[0], textStyle:{color:'#000000'}},
      {name:SERIES_NAMES[1], textStyle:{color:'#00b050'}},
      {name:SERIES_NAMES[2], textStyle:{color:'#ff0000'}}
    ]
  },
  series:series
};
const chart = echarts.init(document.getElementById('c'), null, {renderer:'svg', width:2353, height:1477});
chart.setOption(option);
</script></body></html>
